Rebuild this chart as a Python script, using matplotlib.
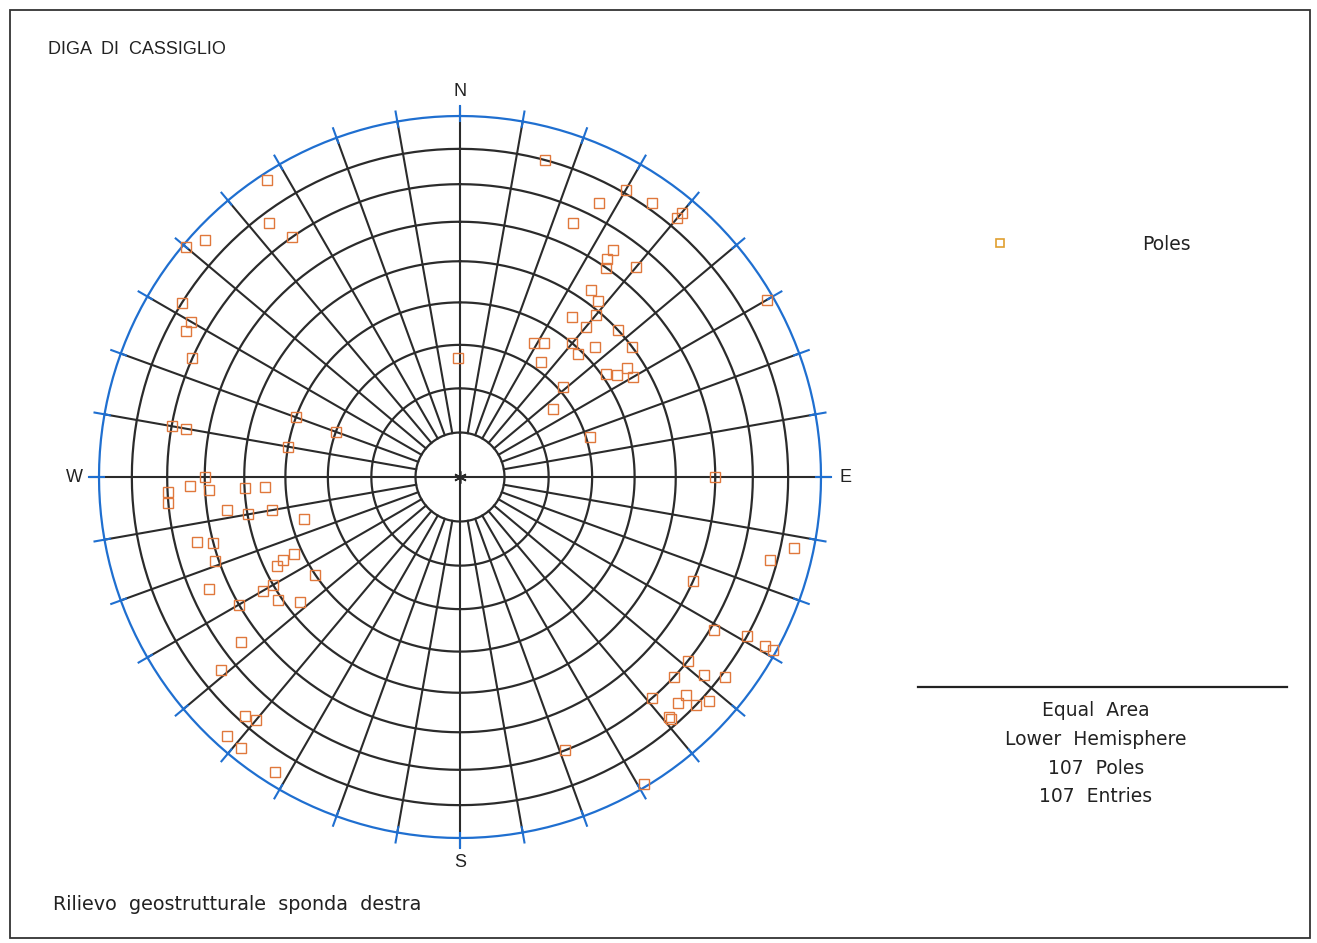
import numpy as np
import matplotlib.pyplot as plt

# poles to planes: trend of the pole (deg from N) and dip of the plane (deg)
pole_trend = [15, 30, 27, 35, 40, 40, 24, 34, 34, 35, 40, 60, 35, 38, 40, 35, 40,
              47, 29, 32, 40, 46, 53, 44, 35, 359, 55, 57, 57, 60, 49, 54, 73, 90,
              327, 323, 325, 313, 310, 302, 300, 298, 294, 290, 290, 280, 280, 280, 270,
              268, 267, 267, 265, 267, 267, 262, 260, 260, 255, 256, 255, 251, 245, 245,
              244, 236, 246, 240, 240, 236, 232, 240, 233, 231, 222, 220, 222, 219, 212,
              102, 105, 114, 121, 119, 119, 119, 129, 133, 129, 127, 139, 134, 136, 134,
              132, 139, 139, 159, 149]
plane_dip = [80, 81, 74, 82, 85, 83, 66, 65, 62, 60, 65, 88, 53, 52, 49, 45, 45,
             50, 35, 36, 40, 43, 50, 39, 32, 27, 41, 43, 46, 46, 31, 26, 31, 60,
             88, 77, 70, 86, 89, 80, 75, 75, 70, 40, 30, 70, 66, 40, 60,
             64, 59, 70, 70, 50, 45, 55, 50, 44, 37, 64, 60, 61, 42, 45,
             47, 40, 65, 50, 53, 51, 47, 60, 65, 74, 78, 77, 86, 86, 86,
             84, 78, 60, 71, 80, 86, 89, 70, 70, 76, 81, 70, 76, 76, 80,
             82, 77, 78, 70, 89]

title = 'DIGA  DI  CASSIGLIO'
subtitle = 'Rilievo  geostrutturale  sponda  destra'
info_lines = ['Equal  Area', 'Lower  Hemisphere', '107  Poles', '107  Entries']
compass = {'N': 0, 'E': 90, 'S': 180, 'W': 270}


def equal_area(trend, dip):
    t = np.radians(np.asarray(trend, dtype=float))
    r = np.sqrt(2) * np.sin(np.radians(np.asarray(dip, dtype=float)) / 2)
    return r * np.sin(t), r * np.cos(t)


W, H = 1317, 943
grid_col = '#2b2b2b'
blue = '#1f6fd0'
pole_col = '#e0783c'

fig = plt.figure(figsize=(W / 100, H / 100), dpi=100)

# page frame and free text, in pixel coordinates
bg = fig.add_axes([0, 0, 1, 1])
bg.set_xlim(0, W)
bg.set_ylim(H, 0)
bg.axis('off')
bg.add_patch(plt.Rectangle((10, 10), 1300, 928, fill=False, lw=1.3, ec='#333333'))
bg.text(48, 50, title, fontsize=13, family=['Liberation Sans Narrow', 'Liberation Sans'],
        va='center', color='#222222')
bg.text(53, 904, subtitle, fontsize=13.8, va='center', color='#222222')
bg.plot([1000], [243], marker='s', ms=5.5, mfc='none', mec='#e0a030', mew=1.2)
bg.text(1166, 245, 'Poles', fontsize=13.5, ha='center', va='center', color='#222222')
bg.plot([918, 1287], [687, 687], color='#222222', lw=1.6)
for i, line in enumerate(info_lines):
    bg.text(1096, 711 + i * 28.5, line, fontsize=13.5, ha='center', va='center',
            color='#222222')

# stereonet, unit radius
R_px = 361
net = fig.add_axes([60 / W, (H - 877) / H, 800 / W, 800 / H])
lim = 400 / R_px
net.set_xlim(-lim, lim)
net.set_ylim(-lim, lim)
net.set_aspect('equal')
net.axis('off')

az = np.linspace(0, 360, 361)
for d in range(10, 90, 10):
    x, y = equal_area(az, np.full_like(az, d))
    net.plot(x, y, color=grid_col, lw=1.6, zorder=2)
x, y = equal_area(az, np.full_like(az, 90))
net.plot(x, y, color=blue, lw=1.6, zorder=3)

r10 = np.sqrt(2) * np.sin(np.radians(5))
for a in range(0, 360, 10):
    t = np.radians(a)
    r0 = 0 if a % 90 == 0 else r10
    r1 = 1.025 if a % 90 == 0 else 1.0
    net.plot([r0 * np.sin(t), r1 * np.sin(t)], [r0 * np.cos(t), r1 * np.cos(t)],
             color=grid_col, lw=1.5, zorder=2)
    net.plot([0.985 * np.sin(t), 1.028 * np.sin(t)], [0.985 * np.cos(t), 1.028 * np.cos(t)],
             color=blue, lw=1.5, zorder=3)

net.plot([0], [0], marker=(6, 2, 0), ms=9, color=grid_col, mew=1.2, zorder=4)

for lab, a in compass.items():
    t = np.radians(a)
    net.text(1.068 * np.sin(t), 1.068 * np.cos(t), lab, fontsize=13,
             family='Liberation Sans', ha='center', va='center', color='#222222')

px, py = equal_area(pole_trend, plane_dip)
net.plot(px, py, ls='none', marker='s', ms=7, mfc='none', mec=pole_col, mew=1.0, zorder=5)

fig.savefig('out.png', dpi=100)
